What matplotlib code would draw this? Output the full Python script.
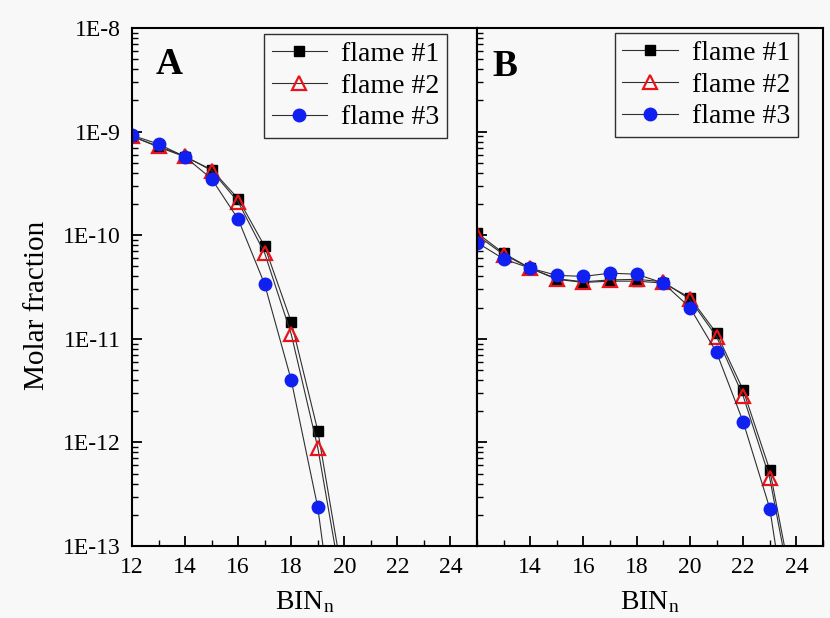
import numpy as np
import matplotlib.pyplot as plt
from matplotlib.ticker import FuncFormatter, LogLocator, MultipleLocator

plt.rcParams['font.family'] = ['Liberation Serif', 'DejaVu Serif']
plt.rcParams['mathtext.fontset'] = 'custom'
plt.rcParams['mathtext.rm'] = 'Liberation Serif'
plt.rcParams['mathtext.it'] = 'Liberation Serif:italic'

# Panel A data
binA = [12, 13, 14, 15, 16, 17, 18, 19, 20]
a_f1 = [9.0e-10, 7.1e-10, 5.7e-10, 4.3e-10, 2.25e-10, 7.8e-11, 1.46e-11, 1.3e-12, 4e-14]
a_f2 = [9.0e-10, 7.2e-10, 5.8e-10, 4.2e-10, 2.1e-10, 6.7e-11, 1.11e-11, 8.9e-13, 3e-14]
a_f3 = [9.2e-10, 7.6e-10, 5.7e-10, 3.5e-10, 1.43e-10, 3.36e-11, 4.0e-12, 2.36e-13, 3e-15]

# Panel B data
binB = [12, 13, 14, 15, 16, 17, 18, 19, 20, 21, 22, 23, 24]
b_f1 = [1.05e-10, 6.7e-11, 4.8e-11, 3.75e-11, 3.5e-11, 3.6e-11, 3.6e-11, 3.45e-11, 2.5e-11, 1.13e-11, 3.2e-12, 5.4e-13, 2.5e-14]
b_f2 = [1.0e-10, 6.5e-11, 4.8e-11, 3.8e-11, 3.55e-11, 3.7e-11, 3.75e-11, 3.55e-11, 2.4e-11, 1.05e-11, 2.8e-12, 4.5e-13, 2e-14]
b_f3 = [8.5e-11, 5.9e-11, 4.8e-11, 4.1e-11, 4.0e-11, 4.3e-11, 4.2e-11, 3.45e-11, 2.0e-11, 7.4e-12, 1.58e-12, 2.3e-13, 5e-15]

labels = ['flame #1', 'flame #2', 'flame #3']
bg = '#f8f8f8'

fig = plt.figure(figsize=(8.3, 6.18), dpi=100)
fig.patch.set_facecolor(bg)
ax = fig.add_axes([0.159, 0.1165, 0.4157, 0.8382])
ax1 = fig.add_axes([0.5747, 0.1165, 0.4169, 0.8382])


def draw(a, x, series, legend_anchor):
    styles = [dict(marker='s', ms=7.5, mfc='black', mec='black'),
              dict(marker='^', ms=10, mfc='none', mec='#e8141c', mew=1.6),
              dict(marker='o', ms=9, mfc='#1020f0', mec='#1020f0')]
    for y, st, lab in zip(series, styles, labels):
        a.plot(x, y, color='#303030', lw=0.8, label=lab, **st)
    a.set_facecolor(bg)
    a.set_yscale('log')
    a.set_xlim(12, 25)
    a.set_ylim(1e-13, 1e-8)
    a.xaxis.set_major_locator(MultipleLocator(2))
    a.xaxis.set_minor_locator(MultipleLocator(1))
    a.yaxis.set_major_locator(LogLocator(base=10))
    a.yaxis.set_minor_locator(LogLocator(base=10, subs=np.arange(2, 10)))
    a.tick_params(which='major', direction='in', length=7.5, width=1.3, labelsize=17)
    a.tick_params(axis='x', which='major', pad=8)
    a.tick_params(axis='y', which='major', pad=8)
    a.tick_params(which='minor', direction='in', length=4.5, width=1.0)
    for s in a.spines.values():
        s.set_linewidth(1.5)
    a.set_xlabel('BIN$_\\mathrm{n}$', fontsize=20, labelpad=8)
    leg = a.legend(loc='upper right', bbox_to_anchor=legend_anchor, fontsize=20,
                   frameon=True, fancybox=False, edgecolor='#303030', framealpha=1,
                   facecolor=bg, handlelength=2.0, handletextpad=0.5, borderpad=0.28,
                   labelspacing=0.22, borderaxespad=0)
    leg.get_frame().set_linewidth(1.0)


draw(ax, binA, [a_f1, a_f2, a_f3], (1 - 30 / 346, 1 - 6 / 518))
draw(ax1, binB, [b_f1, b_f2, b_f3], (1 - 25 / 345, 1 - 5 / 518))

ax.yaxis.set_major_formatter(FuncFormatter(lambda v, p: '1E%d' % round(np.log10(v))))
ax.set_ylabel('Molar fraction', fontsize=21)
ax.yaxis.set_label_coords(-0.238, 0.465)
ax1.yaxis.set_major_formatter(FuncFormatter(lambda v, p: ''))
ax1.set_xticks([14, 16, 18, 20, 22, 24])

ax.text(0.108, 0.929, 'A', transform=ax.transAxes, fontsize=27, fontweight='bold',
        ha='center', va='center')
ax1.text(0.080, 0.925, 'B', transform=ax1.transAxes, fontsize=27, fontweight='bold',
         ha='center', va='center')

fig.savefig('out.png', dpi=100, facecolor=bg)
